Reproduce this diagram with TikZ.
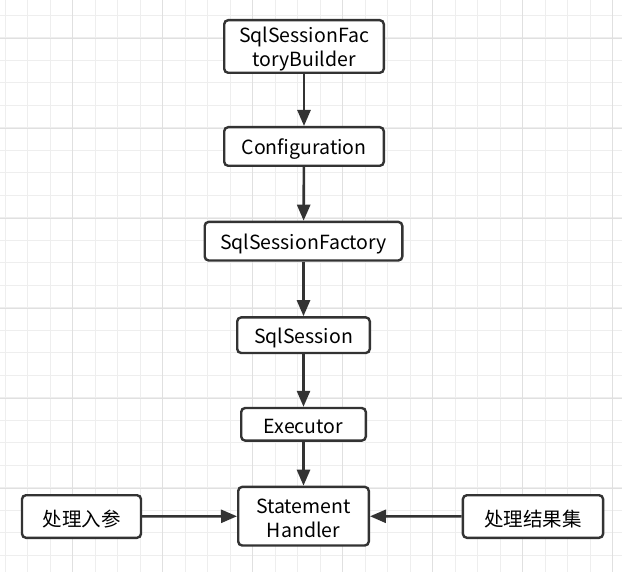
\documentclass[tikz,border=0pt]{standalone}
\usepackage{fontspec}
\setmainfont{Noto Sans CJK SC}
\usetikzlibrary{arrows.meta}
\definecolor{gridminor}{HTML}{EEEEEE}
\definecolor{gridmajor}{HTML}{E0E0E0}
\definecolor{edge}{HTML}{333333}
\tikzset{
  box/.style={draw=edge, line width=2.4pt, rounded corners=4pt, fill=white,
    inner sep=0pt},
  lbl/.style={inner sep=0pt, align=center, text=black, yshift=-2.5pt,
    font=\fontsize{19.5}{24}\selectfont},
  arr/.style={draw=edge, line width=2.6pt,
    -{Triangle[length=16pt,width=13pt]}},
}
\begin{document}
\begin{tikzpicture}[x=1pt,y=-1pt]
\useasboundingbox (0,0) rectangle (622,572);
\fill[white] (0,0) rectangle (622,572);
% grid
\foreach \i in {0,...,27} {
  \draw[gridminor, line width=1pt] ({5+22.5*\i},0) -- ({5+22.5*\i},572);
}
\foreach \j in {0,...,25} {
  \draw[gridminor, line width=1pt] (0,{15.3+22.5*\j}) -- (622,{15.3+22.5*\j});
}
\foreach \i in {0,...,6} {
  \draw[gridmajor, line width=1pt] ({72.5+90*\i},0) -- ({72.5+90*\i},572);
}
\foreach \j in {0,...,6} {
  \draw[gridmajor, line width=1pt] (0,{38.3+90*\j}) -- (622,{38.3+90*\j});
}
% nodes
\node[box, minimum width=159.6pt, minimum height=52.6pt,
  label={[lbl]center:SqlSessionFac\\toryBuilder}] (b1) at (304,46.5) {};
\node[box, minimum width=159.6pt, minimum height=38.6pt,
  label={[lbl]center:Configuration}] (b2) at (304,146.5) {};
\node[box, minimum width=197.6pt, minimum height=38.6pt,
  label={[lbl]center:SqlSessionFactory}] (b3) at (303.5,241.2) {};
\node[box, minimum width=132.6pt, minimum height=35.6pt,
  label={[lbl]center:SqlSession}] (b4) at (303.5,335.2) {};
\node[box, minimum width=124.6pt, minimum height=32.6pt,
  label={[lbl]center:Executor}] (b5) at (303.5,424.3) {};
\node[box, minimum width=130.6pt, minimum height=58.6pt,
  label={[lbl]center:Statement\\Handler}] (b6) at (303.5,516.2) {};
\node[box, minimum width=119pt, minimum height=42.6pt,
  label={[lbl]center:处理入参}] (l) at (81.5,516.5) {};
\node[box, minimum width=140.2pt, minimum height=42.6pt,
  label={[lbl]center:处理结果集}] (r) at (533,516.5) {};
% connectors
\draw[arr] (b1) -- (b2);
\draw[arr] (b2) -- (b3);
\draw[arr] (b3) -- (b4);
\draw[arr] (b4) -- (b5);
\draw[arr] (b5) -- (b6);
\draw[arr] (l) -- (b6);
\draw[arr] (r) -- (b6);
\end{tikzpicture}
\end{document}
